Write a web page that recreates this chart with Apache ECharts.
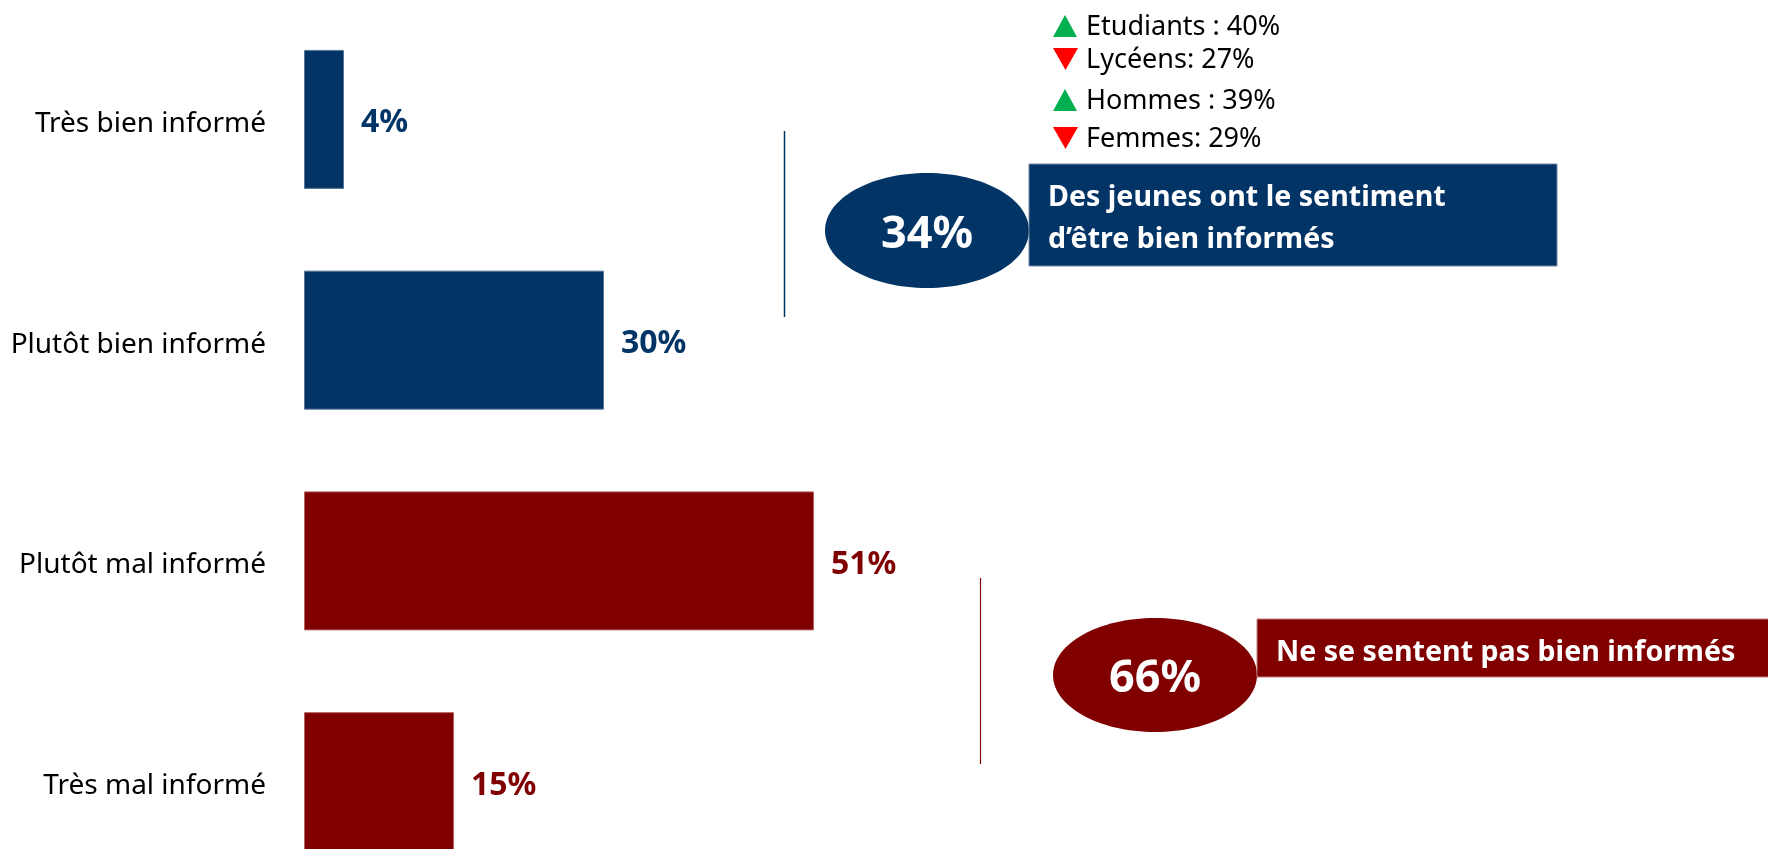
<!DOCTYPE html>
<html>
<head>
<meta charset="utf-8">
<title>Sentiment d'information</title>
<script src="https://cdn.jsdelivr.net/npm/echarts@6/dist/echarts.min.js"></script>
<style>
  html, body { margin: 0; padding: 0; background: #fff; }
  #chart { width: 1768px; height: 849px; }
</style>
</head>
<body>
<div id="chart"></div>
<script>
// données
const categories = ['Très bien informé', 'Plutôt bien informé', 'Plutôt mal informé', 'Très mal informé'];
const values = [4, 30, 51, 15];
const subLabels = ['Etudiants :', 'Lycéens:', 'Hommes :', 'Femmes:'];
const subValues = [40, 27, 39, 29];
const subTrend = ['up', 'down', 'up', 'down'];
const positiveText = ['Des jeunes ont le sentiment', 'd’être bien informés'];
const negativeText = 'Ne se sentent pas bien informés';

const NAVY = '#023466';
const RED = '#800000';
const FONT = '"Noto Sans", "Open Sans", sans-serif';

const totalBien = values[0] + values[1];
const totalMal = values[2] + values[3];

const chart = echarts.init(document.getElementById('chart'));

// triangles + textes des sous-groupes
const subY = [26, 59, 100, 138];
const subGraphics = [];
subLabels.forEach(function (label, i) {
  const cy = subY[i];
  const up = subTrend[i] === 'up';
  subGraphics.push({
    type: 'polygon',
    shape: {
      points: up
        ? [[1053, cy + 11], [1065, cy - 11], [1077, cy + 11]]
        : [[1053, cy - 11], [1078, cy - 11], [1065.5, cy + 11]]
    },
    style: { fill: up ? '#00b050' : '#ff0000' }
  });
  subGraphics.push({
    type: 'text',
    x: 1086,
    y: cy + 1,
    style: {
      text: label + ' ' + subValues[i] + '%',
      font: '27px ' + FONT,
      fill: '#000',
      verticalAlign: 'middle'
    }
  });
});

const option = {
  backgroundColor: '#fff',
  animation: false,
  grid: { left: 304, top: 9, width: 1000, height: 883, outerBoundsMode: 'none' },
  xAxis: {
    type: 'value',
    min: 0,
    max: 100,
    show: false
  },
  yAxis: {
    type: 'category',
    inverse: true,
    data: categories,
    axisLine: { show: false },
    axisTick: { show: false },
    splitLine: { show: false },
    axisLabel: {
      margin: 38,
      fontSize: 28,
      fontFamily: FONT,
      color: '#000',
      verticalAlign: 'top',
      lineHeight: 9
    }
  },
  series: [{
    type: 'bar',
    barWidth: 139,
    data: values.map(function (v, i) {
      const c = i < 2 ? NAVY : RED;
      return {
        value: v,
        itemStyle: { color: c, borderColor: i < 2 ? '#5a7598' : '#b36060', borderWidth: 1 },
        label: { color: c }
      };
    }),
    label: {
      show: true,
      position: 'right',
      distance: 17,
      offset: [0, 4],
      fontSize: 32,
      fontWeight: 'bold',
      fontFamily: FONT,
      formatter: '{c}%'
    }
  }],
  graphic: [
    // bloc "bien informés"
    { type: 'line', shape: { x1: 784.5, y1: 131, x2: 784.5, y2: 317 }, style: { stroke: NAVY, lineWidth: 1.5 } },
    { type: 'ellipse', shape: { cx: 927, cy: 230.5, rx: 102, ry: 57.5 }, style: { fill: NAVY } },
    { type: 'rect', shape: { x: 1029, y: 164, width: 528, height: 102 }, style: { fill: NAVY, stroke: '#7088a6', lineWidth: 1 } },
    {
      type: 'text', x: 927, y: 235,
      style: { text: totalBien + '%', font: 'bold 45px ' + FONT, fill: '#fff', align: 'center', verticalAlign: 'middle' }
    },
    {
      type: 'text', x: 1048, y: 198,
      style: { text: positiveText[0], font: 'bold 28.6px ' + FONT, fill: '#fff', verticalAlign: 'middle' }
    },
    {
      type: 'text', x: 1048, y: 240,
      style: { text: positiveText[1], font: 'bold 28.6px ' + FONT, fill: '#fff', verticalAlign: 'middle' }
    },
    // bloc "mal informés"
    { type: 'line', shape: { x1: 980.5, y1: 578, x2: 980.5, y2: 764 }, style: { stroke: RED, lineWidth: 1.2 } },
    { type: 'ellipse', shape: { cx: 1155, cy: 675, rx: 102, ry: 57 }, style: { fill: RED } },
    { type: 'rect', shape: { x: 1257, y: 619, width: 520, height: 58 }, style: { fill: RED, stroke: '#c08080', lineWidth: 1 } },
    {
      type: 'text', x: 1155, y: 679,
      style: { text: totalMal + '%', font: 'bold 45px ' + FONT, fill: '#fff', align: 'center', verticalAlign: 'middle' }
    },
    {
      type: 'text', x: 1276, y: 653,
      style: { text: negativeText, font: 'bold 28.6px ' + FONT, fill: '#fff', verticalAlign: 'middle' }
    }
  ].concat(subGraphics)
};

chart.setOption(option);
</script>
</body>
</html>
